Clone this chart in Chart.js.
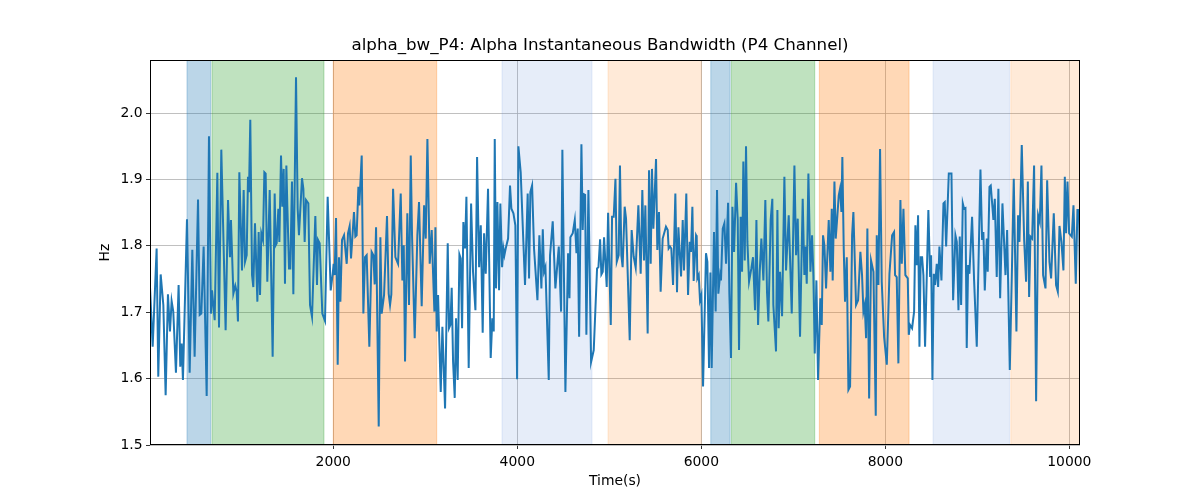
<!DOCTYPE html>
<html>
<head>
<meta charset="utf-8">
<script src="https://cdn.jsdelivr.net/npm/chart.js@4.4.1/dist/chart.umd.min.js"></script>
<style>
  html, body { margin: 0; padding: 0; background: #fff; }
  #wrap { width: 1200px; height: 500px; }
</style>
</head>
<body>
<div id="wrap"><canvas id="bwChart" width="1200" height="500"></canvas></div>
<script>
// ---- data ----
const times = [
  8,37,80,98,124,153,178,203,225,243,261,290,319,337,352,366,410,439,468,493,530,548,566,591,624,649,671,682,711,740,758,783,830,856,
  877,888,914,935,950,964,979,1008,1026,1041,1059,1073,1084,1098,1117,1131,1149,1175,1189,1204,1218,1236,1251,1265,1283,1309,1341,1363,1374,1385,1403,1414,1432,1446,1461,1475,1490,1501,1519,1533,1551,1566,1595,1613,1627,1660,1675,1689,1704,
  1729,1747,1769,1805,1823,1834,1852,1881,1910,1939,1972,1994,2004,2015,2030,2048,2062,2077,2095,2117,2146,2160,2178,2193,2225,2240,2254,2273,2283,2309,2327,2345,2363,2392,2417,2436,2450,2465,2494,2512,2526,2552,
  2584,2602,2617,2631,2650,2675,2689,2704,2733,2751,2766,2780,2805,2823,2842,2856,2885,2914,2932,2961,2987,3005,3023,3048,3070,3081,3099,3110,3124,3139,3168,3186,3215,3244,3258,3273,3287,3302,3320,3334,3352,3371,3385,3400,
  3414,3432,3447,3472,3498,3519,3545,3563,3585,3603,3624,3639,3657,3682,3711,3729,3744,3755,3769,3784,3802,3816,3835,3849,3860,3874,3900,3921,3936,3958,3979,3998,4012,4037,4084,4113,4128,4142,4161,4182,4219,4240,
  4262,4277,4291,4306,4342,4356,4385,4414,4451,4476,4490,4523,4552,4567,4577,4603,4625,4643,4657,4672,4697,4711,4722,4737,4751,4773,4802,4831,4867,4882,4900,4914,4929,4943,4972,4987,5016,5030,5048,5067,5081,
  5102,5116,5131,5145,5167,5182,5222,5243,5265,5287,5316,5341,5359,5377,5392,5417,5432,5450,5464,5479,5508,5522,5540,5558,5580,5616,5635,5645,5660,5674,5693,5718,5736,5751,5765,5780,5798,5812,5837,5856,5874,5888,5903,5917,5943,
  5950,5957,5972,5986,6001,6019,6051,6066,6084,6099,6113,6138,6156,6171,6185,6204,6214,6233,6251,6269,6291,6305,6323,6338,6356,6378,6396,6410,6428,6443,6457,6472,6486,6501,6519,6544,6562,6584,6599,6617,6635,6653,6675,6696,6714,6729,6754,6772,6783,
  6812,6827,6841,6856,6878,6903,6921,6950,6983,7012,7030,7048,7073,7102,7120,7131,7146,7164,7186,7204,7218,7233,7251,7269,7294,7309,7323,7338,7356,7385,7403,7418,7428,7447,7461,7479,7494,7508,7523,7533,7548,7562,7581,7599,7617,7639,
  7653,7682,7704,7729,7747,7762,7776,7791,7805,7824,7845,7871,7896,7907,7925,7943,7961,7987,8016,8045,8074,8095,8106,8124,8142,8164,8179,8197,8218,8244,8255,8269,8291,8313,8327,8342,8356,8371,8385,8400,8414,8432,8468,8487,
  8498,8512,8527,8541,8559,8574,8588,8610,8632,8646,8661,8690,8719,8737,8762,8777,8795,8809,8824,8842,8856,8871,8885,8900,8914,8943,8965,8994,9034,9052,9066,9081,9103,9113,9132,9146,9175,9190,9211,9229,9248,9273,9306,9324,
  9353,9375,9396,9425,9443,9458,9483,9509,9530,9549,9563,9578,9596,9617,9639,9661,9679,9697,9715,9741,9759,9784,9802,9831,9856,9875,9893,9914,9936,9951,9965,9980,9998,10027,10045,10070,10088,10106,10116
];
const alphaBw = [
  1.738,1.648,1.796,1.603,1.757,1.711,1.575,1.727,1.671,1.717,1.701,1.609,1.741,1.618,1.653,1.598,1.840,1.609,1.794,1.633,1.870,1.696,1.698,1.799,1.574,1.965,1.698,1.733,1.688,1.910,1.677,1.945,1.673,1.869,
  1.783,1.839,1.728,1.740,1.731,1.686,1.911,1.763,1.884,1.776,1.786,1.904,1.881,1.990,1.756,1.738,1.834,1.716,1.821,1.726,1.819,1.809,1.911,1.909,1.746,1.884,1.633,1.879,1.801,1.804,1.856,1.806,1.936,1.859,1.916,1.743,1.921,1.859,1.766,1.766,1.897,1.727,2.054,1.856,1.816,1.902,1.886,1.806,1.869,
  1.864,1.711,1.693,1.845,1.741,1.809,1.804,1.698,1.687,1.874,1.733,1.758,1.773,1.756,1.842,1.621,1.783,1.716,1.809,1.816,1.773,1.819,1.830,1.781,1.851,1.814,1.816,1.889,1.861,1.936,1.698,1.783,1.786,1.648,1.791,1.786,1.742,1.828,1.528,1.813,1.698,1.726,
  1.845,1.728,1.711,1.727,1.886,1.783,1.778,1.773,1.879,1.748,1.801,1.626,1.849,1.711,1.936,1.816,1.661,1.816,1.866,1.709,1.861,1.811,1.961,1.773,1.824,1.773,1.701,1.828,1.671,1.726,1.580,1.678,1.555,1.804,1.676,1.681,1.737,1.626,1.571,1.691,1.598,1.787,1.781,1.676,
  1.836,1.796,1.874,1.616,1.864,1.761,1.703,1.934,1.768,1.831,1.669,1.819,1.758,1.886,1.631,1.691,1.671,1.961,1.736,1.866,1.733,1.864,1.768,1.796,1.786,1.796,1.811,1.891,1.856,1.849,1.831,1.599,1.950,1.911,1.741,1.879,1.751,1.881,1.891,1.796,1.718,1.816,
  1.736,1.825,1.761,1.768,1.598,1.786,1.837,1.736,1.799,1.701,1.945,1.580,1.789,1.721,1.813,1.819,1.839,1.789,1.826,1.663,1.953,1.824,1.878,1.877,1.666,1.884,1.625,1.643,1.766,1.768,1.810,1.757,1.761,1.813,1.738,1.850,1.681,1.844,1.844,1.901,1.776,
  1.786,1.921,1.786,1.768,1.859,1.841,1.658,1.824,1.784,1.767,1.861,1.758,1.884,1.778,1.861,1.668,1.914,1.773,1.916,1.826,1.931,1.794,1.851,1.731,1.811,1.829,1.824,1.796,1.799,1.796,1.741,1.879,1.730,1.828,1.791,1.754,1.839,1.763,1.879,1.726,1.806,1.791,1.859,1.747,1.816,
  1.814,1.751,1.756,1.718,1.726,1.588,1.789,1.776,1.616,1.760,1.616,1.821,1.701,1.884,1.728,1.756,1.748,1.826,1.834,1.773,1.865,1.728,1.631,1.859,1.791,1.895,1.839,1.643,1.844,1.761,1.927,1.778,1.950,1.806,1.746,1.766,1.783,1.703,1.839,1.681,1.761,1.811,1.748,1.869,1.731,1.686,1.839,1.871,1.711,
  1.641,1.854,1.676,1.761,1.694,1.904,1.763,1.846,1.698,1.921,1.786,1.841,1.663,1.871,1.756,1.799,1.743,1.909,1.761,1.816,1.756,1.638,1.748,1.598,1.721,1.681,1.816,1.801,1.736,1.839,1.761,1.856,1.748,1.897,1.811,1.846,1.876,1.886,1.851,1.934,1.796,1.716,1.783,1.583,1.588,1.816,
  1.851,1.711,1.718,1.791,1.756,1.701,1.711,1.661,1.826,1.570,1.778,1.761,1.544,1.816,1.741,1.946,1.746,1.663,1.621,1.758,1.816,1.821,1.756,1.753,1.623,1.869,1.773,1.856,1.756,1.751,1.666,1.681,1.676,1.701,1.831,1.771,1.846,1.648,1.783,1.783,1.756,1.648,1.854,1.753,
  1.786,1.598,1.758,1.741,1.773,1.738,1.799,1.748,1.864,1.866,1.799,1.909,1.909,1.718,1.816,1.806,1.703,1.814,1.711,1.864,1.856,1.857,1.646,1.771,1.758,1.844,1.748,1.648,1.915,1.809,1.821,1.733,1.811,1.761,1.889,1.891,1.839,1.871,1.753,1.886,1.721,1.864,1.756,1.824,
  1.613,1.756,1.901,1.671,1.846,1.806,1.952,1.809,1.746,1.897,1.723,1.814,1.811,1.921,1.566,1.846,1.836,1.921,1.756,1.736,1.899,1.776,1.751,1.849,1.741,1.731,1.830,1.806,1.763,1.904,1.819,1.897,1.819,1.814,1.861,1.743,1.854,1.854,1.743
];

// shaded stages
const bandStart = [410, 682, 2000, 3834, 4986, 6103, 6327, 7283, 8519, 9364];
const bandEnd   = [668, 1899, 3124, 4812, 6000, 6313, 7233, 8258, 9349, 10200];
const bandColor = [
  'rgba(31,119,180,0.3)', 'rgba(44,160,44,0.3)', 'rgba(255,127,14,0.3)', 'rgba(100,140,215,0.16)', 'rgba(255,127,14,0.16)',
  'rgba(31,119,180,0.3)', 'rgba(44,160,44,0.3)', 'rgba(255,127,14,0.3)', 'rgba(100,140,215,0.16)', 'rgba(255,127,14,0.16)'
];

const xTicks = [2000, 4000, 6000, 8000, 10000];
const yTicks = [1.5, 1.6, 1.7, 1.8, 1.9, 2.0];
const yMin = 1.5, yMax = 2.08;

const FONT = 'DejaVu Sans';

const bands = {
  id: 'bands',
  beforeDatasetsDraw(chart) {
    const { ctx, chartArea: a, scales: { x } } = chart;
    ctx.save();
    ctx.beginPath();
    ctx.rect(a.left, a.top, a.right - a.left, a.bottom - a.top);
    ctx.clip();
    bandStart.forEach((s, i) => {
      const x0 = x.getPixelForValue(s), x1 = x.getPixelForValue(bandEnd[i]);
      ctx.fillStyle = bandColor[i];
      ctx.fillRect(x0, a.top, x1 - x0, a.bottom - a.top);
      ctx.strokeStyle = bandColor[i];
      ctx.lineWidth = 1;
      ctx.strokeRect(x0, a.top, x1 - x0, a.bottom - a.top);
    });
    ctx.restore();
  }
};

const frame = {
  id: 'frame',
  afterDraw(chart) {
    const { ctx, chartArea: a } = chart;
    ctx.save();
    ctx.strokeStyle = '#000';
    ctx.lineWidth = 1;
    ctx.strokeRect(Math.round(a.left) + 0.5, Math.round(a.top) + 0.5,
                   Math.round(a.right - a.left) - 1, Math.round(a.bottom - a.top) - 1);
    ctx.restore();
  }
};

const points = times.map((t, i) => ({ x: t, y: alphaBw[i] }));

new Chart(document.getElementById('bwChart'), {
  type: 'line',
  data: {
    datasets: [{
      label: 'alpha_bw_P4',
      data: points,
      borderColor: '#1f77b4',
      borderWidth: 2,
      pointRadius: 0,
      tension: 0,
      fill: false
    }]
  },
  options: {
    responsive: false,
    animation: false,
    devicePixelRatio: 1,
    layout: { padding: 0 },
    plugins: {
      legend: { display: false },
      tooltip: { enabled: false },
      title: {
        display: true,
        text: 'alpha_bw_P4: Alpha Instantaneous Bandwidth (P4 Channel)',
        color: '#000',
        font: { family: FONT, size: 16.7, weight: 'normal' },
        padding: { top: 36, bottom: 4 }
      }
    },
    scales: {
      x: {
        type: 'linear',
        min: times[0],
        max: times[times.length - 1],
        afterBuildTicks: s => { s.ticks = xTicks.map(v => ({ value: v })); },
        afterFit: s => { s.height = 55; },
        grid: { color: '#b0b0b0', lineWidth: 0.8, tickColor: '#000', tickLength: 4 },
        border: { display: false },
        ticks: { color: '#000', font: { family: FONT, size: 13.9 }, padding: 5, maxRotation: 0,
                 callback: v => String(v) },
        title: { display: true, text: 'Time(s)', color: '#000',
                 font: { family: FONT, size: 13.9 }, padding: { top: 0, bottom: 10.5 } }
      },
      y: {
        min: yMin,
        max: yMax,
        afterBuildTicks: s => { s.ticks = yTicks.map(v => ({ value: v })); },
        afterFit: s => { s.width = 150; },
        grid: { color: '#b0b0b0', lineWidth: 0.8, tickColor: '#000', tickLength: 4 },
        border: { display: false },
        ticks: { color: '#000', font: { family: FONT, size: 13.9 }, padding: 3.5,
                 callback: v => Number(v).toFixed(1) },
        title: { display: true, text: 'Hz', color: '#000',
                 font: { family: FONT, size: 13.9 }, padding: { top: 97.5, bottom: 0 } }
      },
      // empty right-hand gutter so the title centres over the plot, as in the reference
      yRight: {
        position: 'right',
        min: yMin,
        max: yMax,
        afterFit: s => { s.width = 120; },
        grid: { display: false, drawTicks: false },
        border: { display: false },
        ticks: { display: false }
      }
    }
  },
  plugins: [bands, frame]
});
</script>
</body>
</html>
